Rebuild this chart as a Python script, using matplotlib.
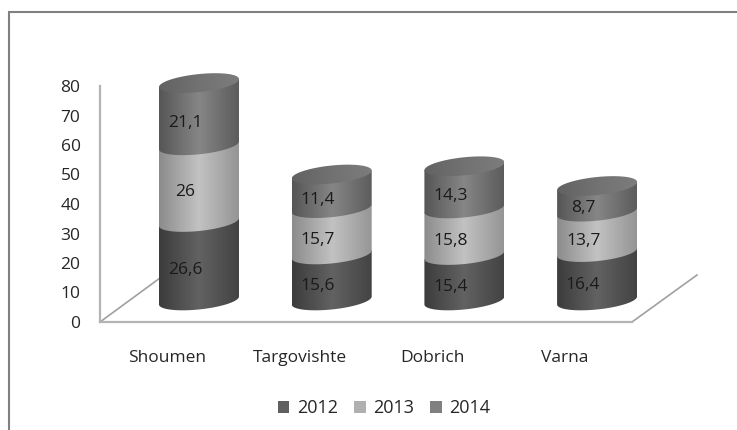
import numpy as np
from matplotlib import pyplot as plt
from matplotlib.colors import LinearSegmentedColormap
from matplotlib.patches import PathPatch, Rectangle
from matplotlib.path import Path

plt.rcParams['font.family'] = ['Open Sans', 'DejaVu Sans']

cities = ['Shoumen', 'Targovishte', 'Dobrich', 'Varna']
years = ['2012', '2013', '2014']
v2012 = [26.6, 15.6, 15.4, 16.4]
v2013 = [26, 15.7, 15.8, 13.7]
v2014 = [21.1, 11.4, 14.3, 8.7]
yticks = [0, 10, 20, 30, 40, 50, 60, 70, 80]

W, H = 737, 430
# plot area in pixels of the reference
left, right, bottom, top = 100, 632, 322, 86
first_x, step_x = 199, 132.7
unit = (bottom - top) / 80

base = 7.3  # the 3d look lifts the cylinders off the floor
half_w = 40 / step_x
minor = 9 / unit
tilt = 4 / unit

legend_cols = ['#606060', '#b0b0b0', '#808080']
shades = [('#3c3c3c', '#626262', '#434343'),
          ('#8c8c8c', '#c2c2c2', '#959595'),
          ('#565656', '#868686', '#5c5c5c')]
lid = ('#626262', '#727272', '#7c7c7c')


def arc(cx, cy, start, end):
    t = np.linspace(start, end, 80)
    return cx + half_w * np.cos(t), cy + minor * np.sin(t) + tilt * np.cos(t)


def gradient(ax, cx, y0, y1, cols, xs, ys, z):
    clip = PathPatch(Path(np.c_[xs, ys]), transform=ax.transData,
                     facecolor='none', edgecolor='none')
    ax.add_patch(clip)
    cmap = LinearSegmentedColormap.from_list('c', list(cols))
    g = np.linspace(0, 1, 120).reshape(1, -1)
    im = ax.imshow(g, cmap=cmap, extent=(cx - half_w, cx + half_w, y0, y1),
                   aspect='auto', zorder=z)
    im.set_clip_box(ax.figure.bbox)
    im.set_clip_path(clip)


def segment(ax, cx, y0, y1, cols):
    # rounded lower edge, straight upper edge; the next segment paints over it
    xb, yb = arc(cx, y0, np.pi, 2 * np.pi)
    xs = np.r_[xb, cx + half_w, cx - half_w]
    ys = np.r_[yb, y1 + tilt, y1 - tilt]
    gradient(ax, cx, y0 - minor - tilt, y1 + tilt, cols, xs, ys, 3)


fig = plt.figure(figsize=(W / 100, H / 100), dpi=100)
ax = fig.add_axes([left / W, 1 - bottom / H, (right - left) / W, (bottom - top) / H])
ax.set_xlim((left - first_x) / step_x, (right - first_x) / step_x)
ax.set_ylim(0, 80)

# frame round the chart, open to the right and the bottom
fig.add_artist(Rectangle((9 / W, -0.05), 1.2, 1 - 12 / H + 0.05, transform=fig.transFigure,
                         fill=False, edgecolor='#808080', linewidth=1.5))

for side in ['top', 'right']:
    ax.spines[side].set_visible(False)
for side in ['left', 'bottom']:
    ax.spines[side].set_color('#b4b4b4')
    ax.spines[side].set_linewidth(1.6)

ax.set_yticks(yticks)
label_shift = 32 / step_x
ax.set_xticks([i - label_shift for i in range(len(cities))], cities)
ax.tick_params(axis='y', length=0, pad=14, labelsize=12.5, labelcolor='#262626')
ax.tick_params(axis='x', length=0, pad=20.5, labelsize=12.5, labelcolor='#262626')

# floor edges
x_l, x_r = ax.get_xlim()
ax.add_line(plt.Line2D([x_l, x_l + 60 / step_x], [0, 44 / unit], color='#a0a0a0', lw=1.2,
                       clip_on=False, zorder=1))
ax.add_line(plt.Line2D([x_r, x_r + 65 / step_x], [0, 47 / unit], color='#a0a0a0', lw=1.2,
                       clip_on=False, zorder=1))

for i in range(len(cities)):
    vals = [v2012[i], v2013[i], v2014[i]]
    tops = np.cumsum(vals) + base
    y = base
    for j, val in enumerate(vals):
        segment(ax, i, y, tops[j], shades[j])
        y += val
    xt, yt = arc(i, tops[-1], 0, 2 * np.pi)
    gradient(ax, i, tops[-1] - minor - tilt, tops[-1] + minor + tilt, lid, xt, yt, 3.5)
    # labels sit a bit left of the middle and lower than the band centre
    y = base - 3
    for val in vals:
        text = f'{val:g}'.replace('.', ',')
        ax.text(i - 0.105, y + val / 2, text, ha='center', va='center', fontsize=12.5,
                color='#1a1a1a', zorder=5, clip_on=False)
        y += val

# imshow moves the limits
ax.set_xlim(x_l, x_r)
ax.set_ylim(0, 80)

handles = [Rectangle((0, 0), 1, 1, facecolor=c) for c in legend_cols]
fig.legend(handles, years, loc='center', bbox_to_anchor=(384 / W, 1 - 408 / H), ncol=3, frameon=False,
           fontsize=13, labelcolor='#262626', handlelength=0.65, handleheight=0.65,
           handletextpad=0.4, columnspacing=0.9)

fig.savefig('out.png', dpi=100, facecolor='white')
